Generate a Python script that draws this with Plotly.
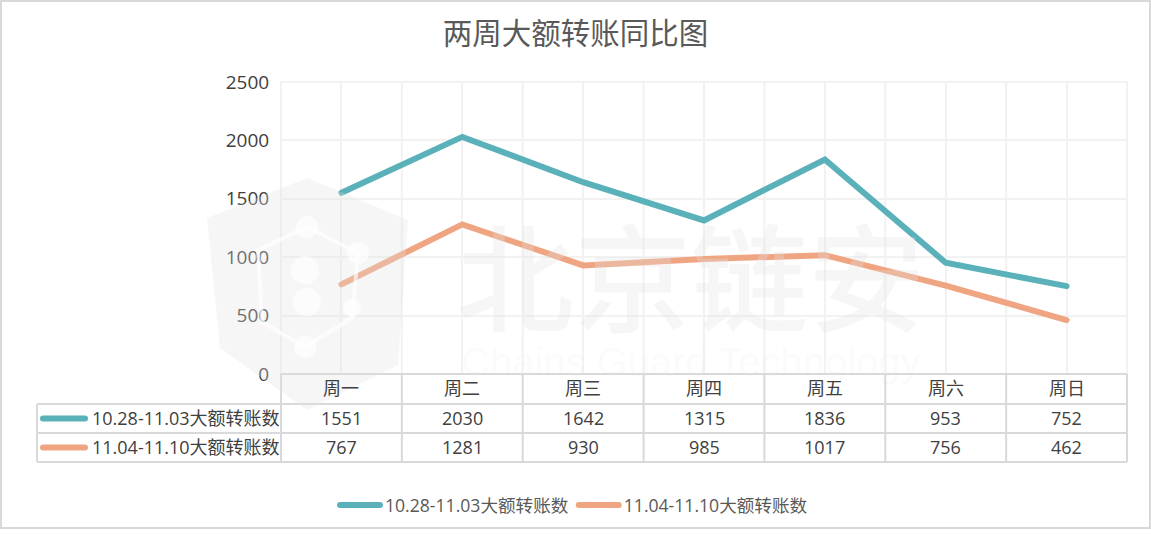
import plotly.graph_objects as go

title = "两周大额转账同比图"
categories = ["周一", "周二", "周三", "周四", "周五", "周六", "周日"]
series_a_name = "10.28-11.03大额转账数"
series_b_name = "11.04-11.10大额转账数"
series_a = [1551, 2030, 1642, 1315, 1836, 953, 752]
series_b = [767, 1281, 930, 985, 1017, 756, 462]
y_ticks = [0, 500, 1000, 1500, 2000, 2500]

TEAL = "#5BB1BA"
ORANGE = "#F0A582"
GRID = "#F2F2F2"
FONT = "Open Sans, Noto Sans CJK SC, sans-serif"
TXT = "#404040"
WM = "rgba(225,225,225,0.3)"
L, R, T, B = 281, 1127, 82, 374
W, H = 1151, 550


def px(x):
    return (x - L) / (R - L)


def py(y):
    return (B - y) / (B - T)


fig = go.Figure()
fig.add_trace(go.Scatter(x=categories, y=series_a, mode="lines", name=series_a_name,
                         line=dict(color=TEAL, width=6)))
fig.add_trace(go.Scatter(x=categories, y=series_b, mode="lines", name=series_b_name,
                         line=dict(color=ORANGE, width=6)))

shapes = []


def hline(x0, x1, y, color="#D9D9D9", w=2, layer="above"):
    shapes.append(dict(type="line", xref="paper", yref="paper", x0=px(x0), x1=px(x1), y0=py(y), y1=py(y),
                       layer=layer, line=dict(color=color, width=w)))


def vline(x, y0, y1, color="#D9D9D9", w=2, layer="above"):
    shapes.append(dict(type="line", xref="paper", yref="paper", x0=px(x), x1=px(x), y0=py(y0), y1=py(y1),
                       layer=layer, line=dict(color=color, width=w)))


# outer frame
shapes.append(dict(type="rect", xref="paper", yref="paper", x0=px(1), x1=px(1150), y0=py(1), y1=py(528),
                   line=dict(color="#D9D9D9", width=2)))
# grid lines at the category boundaries and the plot top
hline(L, R, T, GRID, 2, "below")
for i in range(8):
    vline(L + i * (R - L) / 7, T, B, GRID, 2, "below")
# table
hline(281, 1127, 374)
hline(37, 1127, 404)
hline(37, 1127, 433)
hline(37, 1127, 462)
vline(37, 404, 462)
for i in range(8):
    vline(L + i * (R - L) / 7, 374, 462)
# table legend keys
for yy, c in ((418.5, TEAL), (447.5, ORANGE)):
    shapes.append(dict(type="line", xref="paper", yref="paper", x0=px(43), x1=px(85), y0=py(yy), y1=py(yy),
                       line=dict(color=c, width=6)))
# watermark shield
shield = [(307, 178), (408, 220), (398, 365), (307, 410), (220, 348), (207, 218)]
d = "M " + " L ".join(f"{px(x)} {py(y)}" for x, y in shield) + " Z"
shapes.append(dict(type="path", xref="paper", yref="paper", path=d, fillcolor=WM,
                   line=dict(width=0), layer="above"))
# watermark emblem
motif = [(258, 250), (307, 227), (358, 253), (352, 318), (305, 347), (262, 322)]
d2 = "M " + " L ".join(f"{px(x)} {py(y)}" for x, y in motif) + " Z"
shapes.append(dict(type="path", xref="paper", yref="paper", path=d2, fillcolor="rgba(0,0,0,0)",
                   line=dict(color="rgba(255,255,255,0.65)", width=4), layer="above"))
for cx, cy, r in ((307, 227, 11), (358, 253, 11), (352, 308, 9), (305, 347, 11),
                  (305, 270, 14), (307, 302, 14)):
    shapes.append(dict(type="circle", xref="paper", yref="paper", x0=px(cx - r), x1=px(cx + r),
                       y0=py(cy + r), y1=py(cy - r), fillcolor="rgba(255,255,255,0.65)",
                       line=dict(width=0), layer="above"))

annotations = []
for i, c in enumerate(categories):
    for yy, t in ((388, c), (417.5, series_a[i]), (446.5, series_b[i])):
        annotations.append(dict(x=c, xref="x", y=py(yy), yref="paper", yanchor="middle", text=str(t), showarrow=False,
                                font=dict(family=FONT, size=18, color=TXT)))
for yy, t in ((417.5, series_a_name), (446.5, series_b_name)):
    annotations.append(dict(x=px(92), xref="paper", xanchor="left", y=py(yy), yref="paper", yanchor="middle",
                            text=t, showarrow=False, xshift=-2,
                            font=dict(family=FONT, size=18, color=TXT)))
annotations.append(dict(x=px(691), xref="paper", y=py(272), yref="paper", yanchor="middle", text="北京链安",
                        showarrow=False, font=dict(family="Noto Sans CJK SC", size=117, color=WM, weight=500)))
annotations.append(dict(x=px(691), xref="paper", y=py(362), yref="paper", yanchor="middle",
                        text="Chains Guard Technology", showarrow=False,
                        font=dict(family="Liberation Sans", size=40, color="rgba(225,225,225,0.14)")))

fig.update_layout(
    width=W, height=H, autosize=False,
    margin=dict(l=L, r=W - R, t=T, b=H - B),
    paper_bgcolor="white", plot_bgcolor="white",
    title=dict(text=title, x=0.5, xanchor="center", y=1 - 34 / H, yanchor="middle",
               font=dict(family=FONT, size=29.5, color="#595959")),
    xaxis=dict(type="category", categoryorder="array", categoryarray=categories, range=[-0.5, 6.5],
               showticklabels=False, ticks="", showgrid=True,
               gridcolor=GRID, gridwidth=2, zeroline=False, showline=False),
    yaxis=dict(range=[0, 2500], tickvals=y_ticks, showgrid=True, gridcolor=GRID, gridwidth=2,
               zeroline=False, showline=False, ticks="outside", ticklen=7, tickcolor="rgba(0,0,0,0)",
               tickfont=dict(family=FONT, size=19, color=TXT)),
    legend=dict(orientation="h", x=px(574), xanchor="center", y=py(505), yanchor="middle",
                font=dict(family=FONT, size=17.6, color="#595959"),
                itemwidth=40, bgcolor="rgba(0,0,0,0)", traceorder="normal"),
    shapes=shapes, annotations=annotations,
)

post = """
document.body.style.margin='0';
var gd=document.querySelector('.plotly-graph-div');
gd.querySelectorAll('.js-line, .legendlines path, .shapelayer path').forEach(function(p){
  if(parseFloat(p.style.strokeWidth)>=5){p.style.strokeLinecap='round';}
});
"""
fig.write_html("out.html", post_script=post, config=dict(displayModeBar=False))
